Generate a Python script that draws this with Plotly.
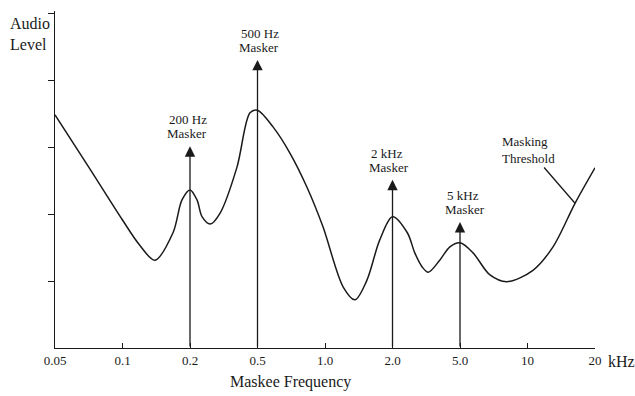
import plotly.graph_objects as go

# ---- data ----
tick_labels = ["0.05", "0.1", "0.2", "0.5", "1.0", "2.0", "5.0", "10", "20"]
tick_pos = list(range(len(tick_labels)))

# masking threshold curve (x in tick-position units, y in level units)
curve_pos = [0.0, 0.5, 1.0, 1.25, 1.48, 1.748, 1.881, 2.0, 2.104, 2.178, 2.30,
             2.444, 2.696, 2.889, 3.0, 3.23, 3.48, 3.733, 3.97, 4.27, 4.444,
             4.62, 4.81, 5.0, 5.22, 5.33, 5.44, 5.53, 5.70, 5.85, 6.0,
             6.193, 6.444, 6.696, 7.081, 7.378, 7.704, 8.0]
curve_level = [3.48, 2.70, 1.91, 1.54, 1.31, 1.72, 2.21, 2.36, 2.21, 1.96, 1.85,
               2.01, 2.70, 3.51, 3.55, 3.30, 2.91, 2.40, 1.81, 0.91, 0.72,
               1.01, 1.61, 1.96, 1.72, 1.42, 1.21, 1.13, 1.31, 1.51, 1.57,
               1.42, 1.09, 0.99, 1.16, 1.51, 2.16, 2.69]

masker_names = ["200 Hz", "500 Hz", "2 kHz", "5 kHz"]
masker_pos = [2, 3, 5, 6]
masker_level = [3.01, 4.30, 2.51, 1.88]

INK = "#1a1a1a"
SERIF = "Liberation Serif, Times New Roman, serif"

fig = go.Figure()
fig.add_trace(go.Scatter(
    x=curve_pos, y=curve_level, mode="lines",
    line=dict(color=INK, width=1.5, shape="spline", smoothing=0.9),
    hoverinfo="skip", showlegend=False))

annotations = []
label_shift = [-3, 1, -4, 5]
for name, xp, lv, sh in zip(masker_names, masker_pos, masker_level, label_shift):
    annotations.append(dict(x=xp, y=lv, ax=xp, ay=0, xref="x", yref="y",
                            axref="x", ayref="y", text="", showarrow=True,
                            arrowhead=2, arrowsize=1.6, arrowwidth=1.3,
                            arrowcolor=INK))
    # two lines placed separately to match the tight line spacing
    annotations.append(dict(x=xp, y=lv, xref="x", yref="y", text="Masker",
                            showarrow=False, xanchor="center", yanchor="bottom",
                            xshift=sh, yshift=3,
                            font=dict(family=SERIF, size=13, color=INK)))
    annotations.append(dict(x=xp, y=lv, xref="x", yref="y", text=name,
                            showarrow=False, xanchor="left", yanchor="bottom",
                            xshift=sh - 20, yshift=17,
                            font=dict(family=SERIF, size=13, color=INK)))

# Masking threshold label with leader line to the curve
annotations.append(dict(x=curve_pos[-2], y=curve_level[-2], ax=7.022, ay=2.955,
                        xref="x", yref="y", axref="x", ayref="y",
                        text="Masking<br>Threshold", showarrow=True, arrowhead=0,
                        arrowwidth=1.3, arrowcolor=INK, align="left",
                        font=dict(family=SERIF, size=13, color=INK)))

annotations.append(dict(x=-0.087, y=0.995, xref="paper", yref="paper", text="Audio<br>Level",
                        showarrow=False, xanchor="left", yanchor="top", align="left",
                        font=dict(family=SERIF, size=16, color=INK)))
annotations.append(dict(x=1.0, y=0.0, xref="paper", yref="paper", text="kHz",
                        showarrow=False, xanchor="left", yanchor="top",
                        xshift=11, yshift=-3,
                        font=dict(family=SERIF, size=16, color=INK)))
annotations.append(dict(x=0.437, y=0.0, xref="paper", yref="paper", text="Maskee Frequency",
                        showarrow=False, xanchor="center", yanchor="top", yshift=-23,
                        font=dict(family=SERIF, size=16, color=INK)))

fig.update_layout(
    width=635, height=396,
    margin=dict(l=55, r=40, t=11, b=48),
    paper_bgcolor="white", plot_bgcolor="white",
    showlegend=False,
    annotations=annotations,
    xaxis=dict(range=[0, 8], tickvals=tick_pos, ticktext=tick_labels,
               showgrid=False, zeroline=False, showline=True, linecolor=INK,
               linewidth=1.3, ticks="inside", ticklen=5, tickwidth=1.2,
               tickcolor=INK, tickfont=dict(family=SERIF, size=13, color=INK)),
    yaxis=dict(range=[0, 5.03], tickvals=[1, 2, 3, 4, 5], showticklabels=False,
               showgrid=False, zeroline=False, showline=True, linecolor=INK,
               linewidth=1.3, ticks="outside", ticklen=6, tickwidth=1.2,
               tickcolor=INK),
)

fig.write_html("out.html", config={"displayModeBar": False},
               post_script="document.body.style.margin='0';document.body.style.overflow='hidden';")
